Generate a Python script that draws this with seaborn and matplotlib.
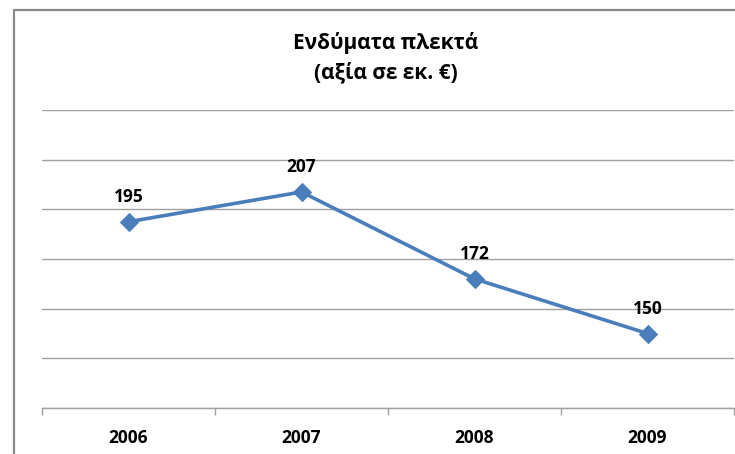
import matplotlib
matplotlib.use("Agg")
import matplotlib.pyplot as plt
from matplotlib.lines import Line2D
import seaborn as sns

years = ["2006", "2007", "2008", "2009"]
values = [195, 207, 172, 150]
y_grid = [120, 140, 160, 180, 200, 220, 240]
title = "Ενδύματα πλεκτά\n(αξία σε εκ. €)"

sns.set_style("white")
plt.rcParams["font.family"] = ["Open Sans", "DejaVu Sans"]
plt.rcParams["text.color"] = "black"
plt.rcParams["xtick.color"] = "black"

W, H = 735, 454
fig = plt.figure(figsize=(W / 100, H / 100), dpi=100)
ax = fig.add_axes([42 / W, 1 - 408 / H, (734 - 42) / W, (408 - 110) / H])

line_color = "#4a7ebb"
grid_color = "#a0a0a0"

sns.lineplot(x=years, y=values, ax=ax, color=line_color, linewidth=2.6,
             marker="D", markersize=9.5, markeredgecolor=line_color, sort=False)

for i, v in enumerate(values):
    ax.annotate(str(v), (i, v), xytext=(0, 18), textcoords="offset points",
                ha="center", va="center", fontsize=12.5, fontweight="bold",
                color="black")

ax.set_xlim(-0.5, len(years) - 0.5)
ax.set_ylim(y_grid[0], y_grid[-1])
ax.set_yticks(y_grid)
ax.set_yticklabels([])
ax.tick_params(axis="y", length=0)
ax.yaxis.grid(True, color=grid_color, linewidth=1)
ax.set_axisbelow(True)

ax.set_xticks(range(len(years)))
ax.set_xticklabels(years, fontsize=12.5, fontweight="bold", color="black")
ax.set_xticks([i - 0.5 for i in range(len(years) + 1)], minor=True)
ax.tick_params(axis="x", which="major", length=0, pad=15)
ax.tick_params(axis="x", which="minor", bottom=True, length=5,
               color=grid_color, width=1, direction="out")
ax.set_xlabel("")
ax.set_ylabel("")

for s in ["top", "right", "left"]:
    ax.spines[s].set_visible(False)
ax.spines["bottom"].set_color(grid_color)
ax.spines["bottom"].set_linewidth(1)

fig.text(386 / W, 1 - 58 / H, title, ha="center", va="center",
         fontsize=15, fontweight="bold", linespacing=1.45, color="black")

# outer chart frame (cropped on the right and bottom)
fx, fy = 14 / W, 1 - 10 / H
fig.add_artist(Line2D([fx, fx], [0, fy], transform=fig.transFigure,
                      color="#8a8a8a", linewidth=1.6))
fig.add_artist(Line2D([fx, 1], [fy, fy], transform=fig.transFigure,
                      color="#8a8a8a", linewidth=1.6))

fig.savefig("out.png", dpi=100)
